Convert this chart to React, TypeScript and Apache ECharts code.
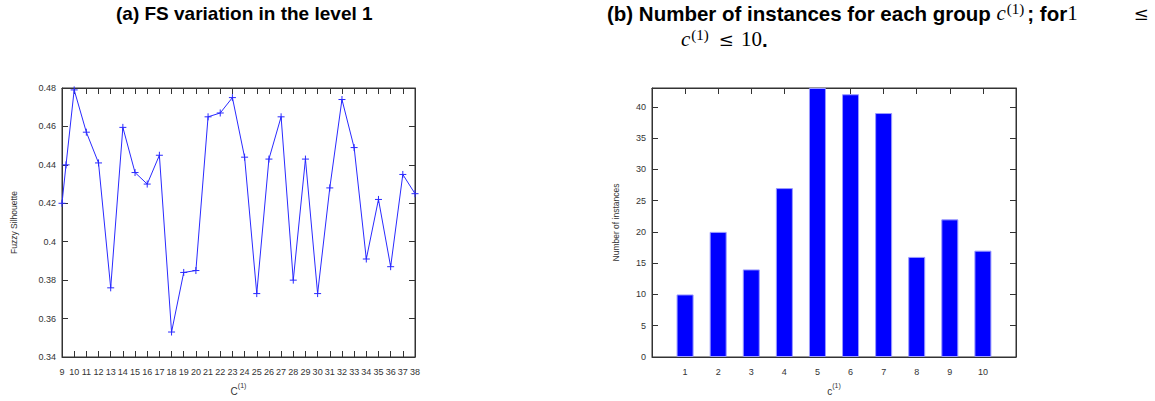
import React, { useEffect, useRef } from "react";
import * as echarts from "echarts";

// (a) Fuzzy Silhouette per number of groups
const fsX = [9, 9.33, 10, 11, 12, 13, 14, 15, 16, 17, 18, 19, 20, 21, 22, 23, 24, 25, 26, 27, 28, 29, 30, 31, 32, 33, 34, 35, 36, 37, 38];
const fsY = [0.42, 0.44, 0.479, 0.457, 0.441, 0.376, 0.4595, 0.436, 0.43, 0.445, 0.353, 0.384, 0.385, 0.465, 0.467, 0.475, 0.444, 0.373, 0.443, 0.465, 0.38, 0.443, 0.373, 0.428, 0.474, 0.449, 0.391, 0.422, 0.387, 0.435, 0.425];

// (b) Number of instances per group
const groups = [1, 2, 3, 4, 5, 6, 7, 8, 9, 10];
const instances = [10, 20, 14, 27, 43, 42, 39, 16, 22, 17];

const AXIS = "#333";
const LABEL = "#333";
const SANS = "'Liberation Sans', Arial, Helvetica, sans-serif";
const SERIF = "'Liberation Serif', 'DejaVu Serif', serif";
const MATH = "'DejaVu Serif', 'Liberation Serif', serif";

export default function App() {
  const ref = useRef<HTMLDivElement>(null);
  useEffect(() => {
    if (!ref.current) return;
    const chart = echarts.init(ref.current, null, { renderer: "svg" });

    const tick = { show: true, inside: true, length: 6, lineStyle: { color: AXIS, width: 1 } };
    const line = { show: true, onZero: false, lineStyle: { color: AXIS, width: 1 } };
    const lbl = { color: LABEL, fontSize: 9, fontFamily: SANS };
    const nameStyle = {
      color: LABEL,
      fontSize: 10,
      fontFamily: SANS,
      rich: {
        b: { fontSize: 10, color: LABEL, fontFamily: SANS, lineHeight: 14, verticalAlign: "bottom" },
        s: { fontSize: 7, color: LABEL, fontFamily: SANS, lineHeight: 8, verticalAlign: "top" },
      },
    };

    const rich = {
      t: { fontSize: 20.5, fontWeight: "bold", fontFamily: SANS, color: "#000", lineHeight: 24 },
      m: { fontSize: 21, fontWeight: "normal", fontStyle: "italic", fontFamily: SERIF, color: "#000", lineHeight: 24, padding: [0, 1, 0, 0] },
      r: { fontSize: 21, fontWeight: "normal", fontFamily: SERIF, color: "#000", lineHeight: 24 },
      le: { fontSize: 18, fontWeight: "normal", fontFamily: MATH, color: "#000", lineHeight: 24, padding: [0, 0, 0, 56] },
      le2: { fontSize: 18, fontWeight: "normal", fontFamily: MATH, color: "#000", lineHeight: 24, padding: [0, 7, 0, 7] },
      sup: { fontSize: 15, fontWeight: "normal", fontFamily: SERIF, color: "#000", lineHeight: 14, verticalAlign: "top", padding: [0, 3, 0, 0] },
    };

    chart.setOption({
      animation: false,
      backgroundColor: "#fff",
      title: [
        {
          text: "(a) FS variation in the level 1",
          left: 116,
          top: 1,
          padding: 0,
          textStyle: { fontSize: 19, fontWeight: "bold", fontFamily: SANS, color: "#000", lineHeight: 24 },
        },
        {
          text: "{t|(b) Number of instances for each group }{m|c}{sup|(1)}{t|; for}{r|1}{le|≤}",
          left: 607,
          top: 1,
          padding: 0,
          textStyle: { rich },
        },
        {
          text: "{m|c}{sup|(1)}{le2|≤}{r|10}{t|.}",
          left: 681,
          top: 27,
          padding: 0,
          textStyle: { rich },
        },
      ],
      grid: [
        { left: 62, top: 88, width: 353, height: 275, show: true, borderColor: AXIS, borderWidth: 1 },
        { left: 652, top: 88, width: 364, height: 275, show: true, borderColor: AXIS, borderWidth: 1 },
      ],
      xAxis: [
        {
          type: "value", gridIndex: 0, min: 9, max: 38, interval: 1, position: "bottom",
          axisLine: line, axisTick: tick, splitLine: { show: false },
          axisLabel: { ...lbl, margin: 10 },
          name: "{b|C}{s|(1)}", nameLocation: "middle", nameGap: 25, nameTextStyle: nameStyle,
        },
        {
          type: "value", gridIndex: 0, min: 9, max: 38, interval: 1, position: "top",
          axisLine: line, axisTick: tick, splitLine: { show: false }, axisLabel: { show: false },
        },
        {
          type: "value", gridIndex: 1, min: 0, max: 11, interval: 1, position: "bottom",
          axisLine: line, axisTick: tick, splitLine: { show: false },
          axisLabel: { ...lbl, margin: 10, formatter: (v: number) => (v >= 1 && v <= 10 ? String(v) : "") },
          name: "{b|c}{s|(1)}", nameLocation: "middle", nameGap: 25, nameTextStyle: nameStyle,
        },
        {
          type: "value", gridIndex: 1, min: 0, max: 11, interval: 1, position: "top",
          axisLine: line, axisTick: tick, splitLine: { show: false }, axisLabel: { show: false },
        },
      ],
      yAxis: [
        {
          type: "value", gridIndex: 0, min: 0.34, max: 0.48, interval: 0.02, position: "left",
          axisLine: line, axisTick: tick, splitLine: { show: false },
          axisLabel: { ...lbl, margin: 6 },
          name: "Fuzzy Silhouette", nameLocation: "middle", nameGap: 44, nameRotate: 90,
          nameTextStyle: { color: LABEL, fontSize: 8.5, fontFamily: SANS },
        },
        {
          type: "value", gridIndex: 0, min: 0.34, max: 0.48, interval: 0.02, position: "right",
          axisLine: line, axisTick: tick, splitLine: { show: false }, axisLabel: { show: false },
        },
        {
          type: "value", gridIndex: 1, min: 0, max: 43, interval: 5, position: "left",
          axisLine: line, axisTick: tick, splitLine: { show: false },
          axisLabel: { ...lbl, margin: 6, showMaxLabel: false, formatter: (v: number) => (v % 5 === 0 ? String(v) : "") },
          name: "Number of instances", nameLocation: "middle", nameGap: 32, nameRotate: 90,
          nameTextStyle: { color: LABEL, fontSize: 8.5, fontFamily: SANS },
        },
        {
          type: "value", gridIndex: 1, min: 0, max: 43, interval: 5, position: "right",
          axisLine: line, axisTick: tick, splitLine: { show: false }, axisLabel: { show: false },
        },
      ],
      series: [
        {
          type: "line",
          xAxisIndex: 0,
          yAxisIndex: 0,
          data: fsX.map((x, i) => [x, fsY[i]]),
          lineStyle: { color: "#2a2aff", width: 1 },
          symbol: "path://M0,5L10,5M5,0L5,10",
          symbolSize: 7,
          itemStyle: { color: "#2a2aff", borderColor: "#2a2aff", borderWidth: 1 },
          z: 3,
        },
        {
          type: "bar",
          xAxisIndex: 2,
          yAxisIndex: 2,
          data: groups.map((g, i) => [g, instances[i]]),
          barWidth: 17,
          itemStyle: { color: "#0000ff", borderColor: "#9a9aff", borderWidth: 1 },
          z: 3,
        },
      ],
    });
    return () => chart.dispose();
  }, []);
  return <div ref={ref} style={{ width: 1155, height: 401, position: "absolute", left: 0, top: 0 }} />;
}
